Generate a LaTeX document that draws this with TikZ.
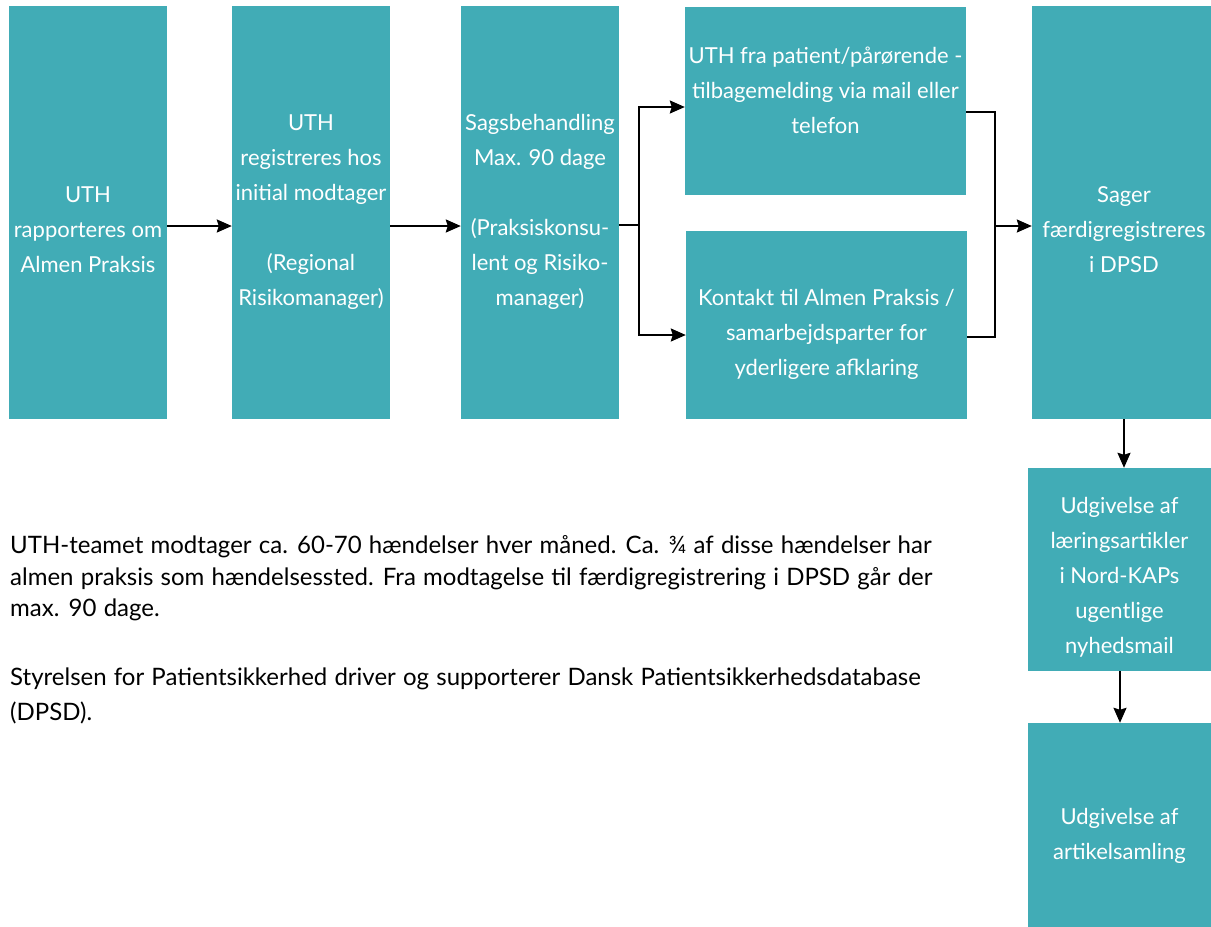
\documentclass[tikz,border=0pt]{standalone}
\usepackage{fontspec}
\setmainfont{Lato}
\usetikzlibrary{arrows.meta}
\definecolor{teal1}{HTML}{41ACB6}
\newcommand\mybodyfont[1]{\fontsize{24pt}{#1}\selectfont\spaceskip=0.3em plus 0.1em minus 0.05em\relax}
\begin{document}
\begin{tikzpicture}[x=1pt,y=-1pt,
  box/.style={rectangle,fill=teal1,draw=none,inner sep=0pt},
  txt/.style={text=white,align=center,inner sep=0pt,font=\fontsize{22pt}{35pt}\selectfont},
  body/.style={text=black,align=left,anchor=west,inner sep=0pt},
  conn/.style={line width=2pt,black},
  arr/.style={conn,-{Stealth[length=15pt,width=13pt,inset=2pt]}}]
\useasboundingbox (0,0) rectangle (1211,927);
% boxes
\node[box,minimum width=158pt,minimum height=413pt] (a) at (88,212.5) {};
\node[box,minimum width=158pt,minimum height=413pt] (b) at (311,212.5) {};
\node[box,minimum width=158pt,minimum height=413pt] (c) at (540,212.5) {};
\node[box,minimum width=281pt,minimum height=188pt] (d) at (825.5,101) {};
\node[box,minimum width=281pt,minimum height=188pt] (e) at (826.5,325) {};
\node[box,minimum width=179pt,minimum height=413pt] (f) at (1121.5,212.5) {};
\node[box,minimum width=183pt,minimum height=203pt] (g) at (1119.5,569.5) {};
\node[box,minimum width=183pt,minimum height=204pt] (h) at (1119.5,825) {};
% texts
\node[txt] (at) at (88,230) {UTH\\rapporteres om\\Almen Praksis};
\node[txt] (bt) at (311,212) {UTH\\registreres hos\\initial modtager\\\mbox{}\\(Regional\\Risikomanager)};
\node[txt] (ct) at (540,212) {Sagsbehandling\\Max. 90 dage\\\mbox{}\\(Praksiskonsu-\\lent og Risiko-\\manager)};
\node[txt] (dt) at (825.5,90) {UTH fra patient/pårørende -\\tilbagemelding via mail eller\\telefon};
\node[txt] (et) at (826.5,334) {Kontakt til Almen Praksis /\\samarbejdsparter for\\yderligere afklaring};
\node[txt] (ft) at (1124,230) {Sager\\færdigregistreres\\i DPSD};
\node[txt] (gt) at (1119.5,577) {Udgivelse af\\læringsartikler\\i Nord-KAPs\\ugentlige\\nyhedsmail};
\node[txt] (ht) at (1119.5,835.5) {Udgivelse af\\artikelsamling};
% body text
\node[body,font=\mybodyfont{31.5pt}] (p1) at (10,578.5) {UTH-teamet modtager ca. 60-70 hændelser hver måned. Ca. ¾ af disse hændelser har\\almen praksis som hændelsessted. Fra modtagelse til færdigregistrering i DPSD går der\\max. 90 dage.};
\node[body,font=\mybodyfont{35pt}] (p2) at (10,695.5) {Styrelsen for Patientsikkerhed driver og supporterer Dansk Patientsikkerhedsdatabase\\(DPSD).};
% connectors
\coordinate (m) at (0,226);
\coordinate (fork1) at (639,225);
\coordinate (yd) at (0,107);
\coordinate (ye) at (0,335);
\coordinate (fork2) at (995,226);
\coordinate (yd2) at (0,112);
\coordinate (ye2) at (0,337);
\coordinate (xfg) at (1124,0);
\coordinate (xgh) at (1120,0);
\draw[arr] (a.east |- m) -- (b.west |- m);
\draw[arr] (b.east |- m) -- (c.west |- m);
\draw[conn] (c.east |- fork1) -- (fork1);
\draw[arr] (fork1) |- (d.west |- yd);
\draw[arr] (fork1) |- (e.west |- ye);
\draw[conn] (d.east |- yd2) -| (fork2 |- ye2) -- (e.east |- ye2);
\draw[arr] (fork2) -- (f.west |- fork2);
\draw[arr] (f.south -| xfg) -- (g.north -| xfg);
\draw[arr] (g.south -| xgh) -- (h.north -| xgh);
\end{tikzpicture}
\end{document}
